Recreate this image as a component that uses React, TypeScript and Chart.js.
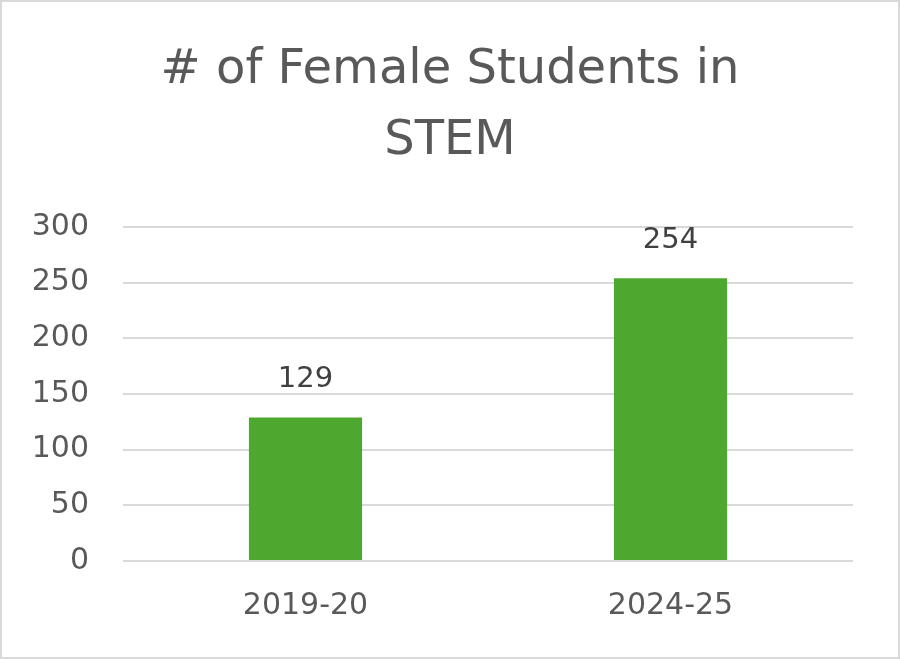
import { useEffect, useRef } from "react";
import { Chart, registerables } from "chart.js";

Chart.register(...registerables);

const categories = ["2019-20", "2024-25"];
const femaleStudents = [129, 254];
const titleLines = ["# of Female Students in", "STEM"];
const yMin = 0;
const yMax = 300;
const yStep = 50;

const FONT = "'DejaVu Sans', 'Liberation Sans', sans-serif";
const TEXT_GRAY = "#595959";
const LABEL_GRAY = "#404040";
const BAR_GREEN = "#4ea72e";
const GRID_GRAY = "#d9d9d9";

// draws the value above each bar (no datalabels package available)
const valueLabels = {
  id: "valueLabels",
  afterDatasetsDraw(chart: Chart) {
    const ctx = chart.ctx;
    const meta = chart.getDatasetMeta(0);
    ctx.save();
    ctx.font = `29px ${FONT}`;
    ctx.fillStyle = LABEL_GRAY;
    ctx.textAlign = "center";
    ctx.textBaseline = "alphabetic";
    meta.data.forEach((bar: any, i: number) => {
      const v = chart.data.datasets[0].data[i] as number;
      ctx.fillText(String(v), bar.x, bar.y - 30);
    });
    ctx.restore();
  },
};

export default function App() {
  const canvasRef = useRef<HTMLCanvasElement | null>(null);
  const chartRef = useRef<Chart | null>(null);

  useEffect(() => {
    if (!canvasRef.current) return;
    if (chartRef.current) chartRef.current.destroy();

    chartRef.current = new Chart(canvasRef.current, {
      type: "bar",
      data: {
        labels: categories,
        datasets: [
          {
            label: "# of Female Students in STEM",
            data: femaleStudents,
            backgroundColor: BAR_GREEN,
            borderWidth: 0,
            barPercentage: 0.62,
            categoryPercentage: 0.5,
          },
        ],
      },
      options: {
        animation: false,
        responsive: false,
        maintainAspectRatio: false,
        layout: { padding: 0 },
        plugins: {
          legend: { display: false },
          tooltip: { enabled: false },
          title: {
            display: true,
            text: titleLines,
            color: TEXT_GRAY,
            font: { family: FONT, size: 48, weight: "normal", lineHeight: 71 / 48 },
            padding: { top: 33, bottom: 50 },
          },
        },
        scales: {
          x: {
            grid: { display: false },
            border: { display: false },
            ticks: {
              color: TEXT_GRAY,
              font: { family: FONT, size: 30 },
              padding: 19,
            },
            afterFit(scale: any) {
              scale.height = 96;
            },
          },
          y: {
            min: yMin,
            max: yMax,
            grid: { color: GRID_GRAY, lineWidth: 2, drawTicks: false },
            border: { display: false },
            ticks: {
              stepSize: yStep,
              color: TEXT_GRAY,
              font: { family: FONT, size: 30 },
              padding: 34,
            },
            afterFit(scale: any) {
              scale.width = 121;
            },
          },
          // empty right-hand axis, only keeps the right margin so the title stays centred on the canvas
          yRight: {
            position: "right",
            min: yMin,
            max: yMax,
            grid: { display: false },
            border: { display: false },
            ticks: { display: false },
            afterFit(scale: any) {
              scale.width = 45;
            },
          },
        },
      },
      plugins: [valueLabels],
    });

    return () => {
      if (chartRef.current) {
        chartRef.current.destroy();
        chartRef.current = null;
      }
    };
  }, []);

  return (
    <div
      style={{
        position: "absolute",
        left: 0,
        top: 0,
        width: 900,
        height: 659,
        border: `2px solid ${GRID_GRAY}`,
        boxSizing: "border-box",
        background: "#ffffff",
      }}
    >
      <canvas ref={canvasRef} width={896} height={655} style={{ display: "block" }} />
    </div>
  );
}
